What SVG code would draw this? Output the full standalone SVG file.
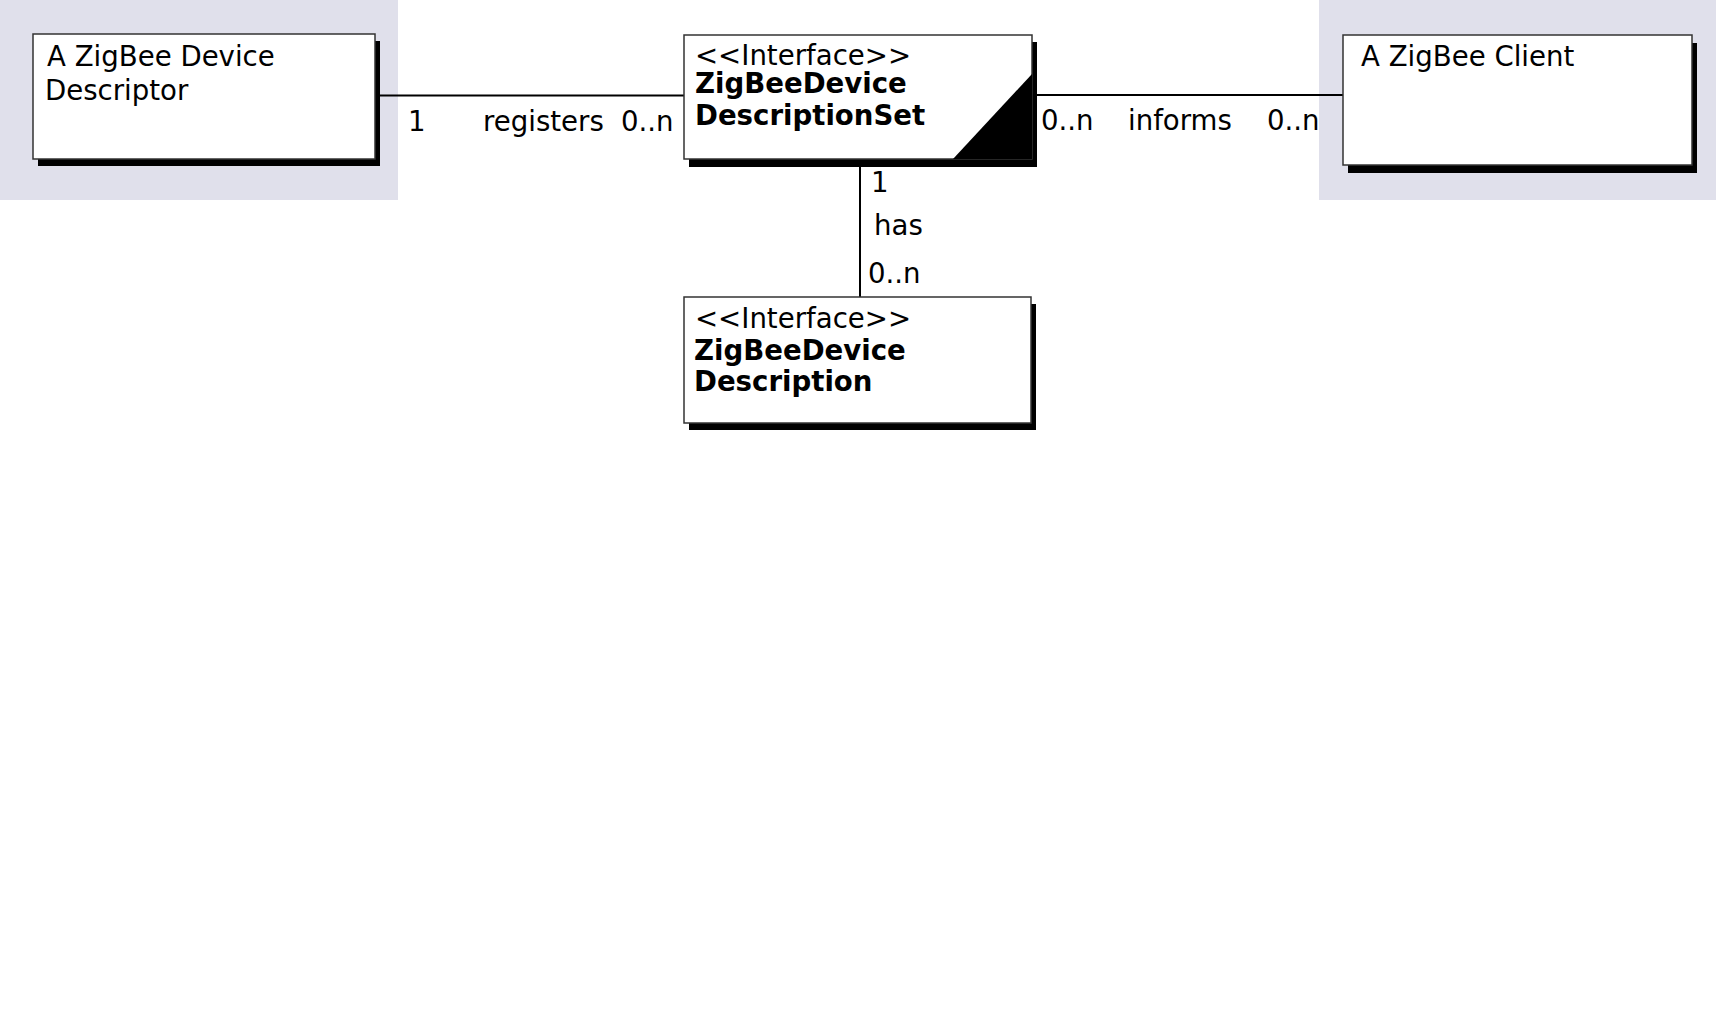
<svg xmlns="http://www.w3.org/2000/svg" width="1716" height="1010" viewBox="0 0 1716 1010">
<style>
.bg{fill:#e0e0eb}
.box{fill:#fff;stroke:#333;stroke-width:1.5}
.sh{fill:#000}
.t{font-family:"DejaVu Sans","Liberation Sans",sans-serif;font-size:27.6px;fill:#000}
.b{font-weight:bold}
.ln{stroke:#000;stroke-width:2;fill:none}
</style>
<rect width="1716" height="1010" fill="#fff"/>
<rect class="bg" x="0" y="0" width="398" height="200"/>
<rect class="bg" x="1319" y="0" width="397" height="200"/>
<g id="connectors">
<line class="ln" x1="380" y1="95.5" x2="684" y2="95.5"/>
<line class="ln" x1="1036" y1="95" x2="1343" y2="95"/>
<line class="ln" x1="860" y1="167" x2="860" y2="297"/>
<text class="t" x="408" y="131">1</text>
<text class="t" x="483" y="131">registers</text>
<text class="t" x="621" y="131">0..n</text>
<text class="t" x="1041" y="130">0..n</text>
<text class="t" x="1128" y="130">informs</text>
<text class="t" x="1267" y="130">0..n</text>
<text class="t" x="871" y="192">1</text>
<text class="t" x="874" y="235">has</text>
<text class="t" x="868" y="283">0..n</text>
</g>
<g id="descriptor">
<rect class="sh" x="38" y="41" width="342" height="125"/>
<rect class="box" x="33" y="34" width="342" height="125"/>
<text class="t" x="47" y="66">A ZigBee Device</text>
<text class="t" x="45" y="100">Descriptor</text>
</g>
<g id="descriptionset">
<rect class="sh" x="689" y="42" width="348" height="125"/>
<rect class="box" x="684" y="35" width="348" height="124"/>
<polygon class="sh" points="1032,74 1032,159 953,159"/>
<text class="t" x="695" y="65">&lt;&lt;Interface&gt;&gt;</text>
<text class="t b" x="695" y="93">ZigBeeDevice</text>
<text class="t b" x="695" y="125">DescriptionSet</text>
</g>
<g id="client">
<rect class="sh" x="1348" y="43" width="349" height="130"/>
<rect class="box" x="1343" y="35" width="349" height="130"/>
<text class="t" x="1361" y="66">A ZigBee Client</text>
</g>
<g id="description">
<rect class="sh" x="689" y="304" width="347" height="126"/>
<rect class="box" x="684" y="297" width="347" height="126"/>
<text class="t" x="695" y="328">&lt;&lt;Interface&gt;&gt;</text>
<text class="t b" x="694" y="360">ZigBeeDevice</text>
<text class="t b" x="694" y="391">Description</text>
</g>
</svg>
